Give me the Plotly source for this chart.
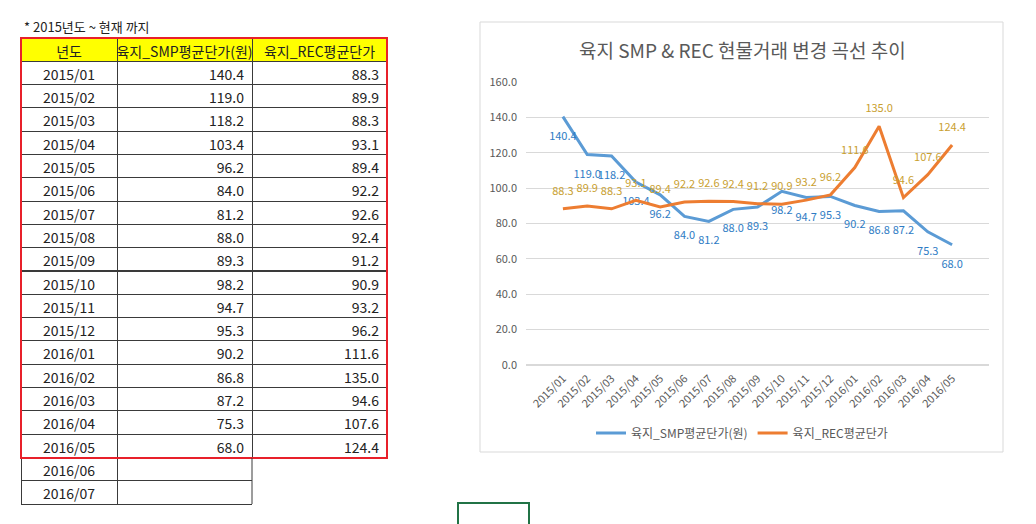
import plotly.graph_objects as go

W, H = 1036, 524
PAGE_OFFSET = 8  # browser body margin

months = ["2015/01", "2015/02", "2015/03", "2015/04", "2015/05", "2015/06",
          "2015/07", "2015/08", "2015/09", "2015/10", "2015/11", "2015/12",
          "2016/01", "2016/02", "2016/03", "2016/04", "2016/05"]
extra_months = ["2016/06", "2016/07"]
smp = [140.4, 119.0, 118.2, 103.4, 96.2, 84.0, 81.2, 88.0, 89.3,
       98.2, 94.7, 95.3, 90.2, 86.8, 87.2, 75.3, 68.0]
rec = [88.3, 89.9, 88.3, 93.1, 89.4, 92.2, 92.6, 92.4, 91.2,
       90.9, 93.2, 96.2, 111.6, 135.0, 94.6, 107.6, 124.4]
headers = ["년도", "육지_SMP평균단가(원)", "육지_REC평균단가"]

FONT = "Noto Sans CJK KR, Malgun Gothic, sans-serif"


def px_x(x):
    return (x - PAGE_OFFSET) / W


def px_y(y):
    return 1 - (y - PAGE_OFFSET) / H


fig = go.Figure()

# ---- spreadsheet table on the left ----
n_rows = len(months) + len(extra_months)
col_smp = [f"{v:.1f}" for v in smp] + [""] * len(extra_months)
col_rec = [f"{v:.1f}" for v in rec] + [""] * len(extra_months)
line_dark = "#3a3a3a"
fig.add_trace(go.Table(
    domain=dict(x=[px_x(21), px_x(387)], y=[px_y(520), px_y(38)]),
    columnwidth=[96, 135, 135],
    header=dict(
        values=headers,
        fill_color="#FFFF00",
        line=dict(color=line_dark, width=1),
        align="center",
        height=23.3,
        font=dict(family=FONT, size=14, color="#222222"),
    ),
    cells=dict(
        values=[months + extra_months, col_smp, col_rec],
        fill_color="white",
        line=dict(color=[[line_dark] * n_rows,
                         [line_dark] * n_rows,
                         [line_dark] * len(months) + ["white"] * len(extra_months)],
                  width=1),
        align=["center", "right", "right"],
        height=23.3,
        font=dict(family=FONT, size=14, color="#222222"),
    ),
))

# ---- line chart on the right ----
fig.add_trace(go.Scatter(
    x=months, y=smp, name="육지_SMP평균단가(원)",
    mode="lines+markers+text", line=dict(color="#5B9BD5", width=3),
    marker=dict(size=22, color="rgba(0,0,0,0)"),
    text=[f"{v:.1f}" for v in smp], textposition="bottom center",
    textfont=dict(family=FONT, size=11, color="#2E7BC4"),
    cliponaxis=False,
))
fig.add_trace(go.Scatter(
    x=months, y=rec, name="육지_REC평균단가",
    mode="lines+markers+text", line=dict(color="#ED7D31", width=3),
    marker=dict(size=16, color="rgba(0,0,0,0)"),
    text=[f"{v:.1f}" for v in rec], textposition="top center",
    textfont=dict(family=FONT, size=11, color="#C9A030"),
    cliponaxis=False,
))

fig.update_layout(
    width=W, height=H,
    margin=dict(l=0, r=0, t=0, b=0, autoexpand=False),
    paper_bgcolor="white", plot_bgcolor="white",
    font=dict(family=FONT, color="#595959"),
    xaxis=dict(
        domain=[px_x(526), px_x(989)],
        anchor="y",
        tickangle=-45,
        tickfont=dict(size=11, color="#595959"),
        ticklabelstandoff=4,
        showgrid=False, showline=False, ticks="",
    ),
    yaxis=dict(
        domain=[px_y(365), px_y(82)],
        anchor="x",
        range=[0, 160], dtick=20, tickformat=".1f",
        tickfont=dict(size=11, color="#595959"),
        ticklabelstandoff=8,
        gridcolor="#D9D9D9", zeroline=True, zerolinecolor="#D9D9D9",
        showline=False, ticks="",
    ),
    legend=dict(
        orientation="h", x=px_x(742), xanchor="center",
        y=px_y(433), yanchor="middle",
        font=dict(size=12, color="#595959"),
    ),
    annotations=[
        dict(text="* 2015년도 ~ 현재 까지", x=px_x(22), y=px_y(27),
             xref="paper", yref="paper", xanchor="left", yanchor="middle",
             showarrow=False, font=dict(family=FONT, size=13, color="#222222")),
        dict(text="육지 SMP & REC 현물거래 변경 곡선 추이", x=px_x(742), y=px_y(50),
             xref="paper", yref="paper", xanchor="center", yanchor="middle",
             showarrow=False, font=dict(family=FONT, size=19, color="#595959")),
    ],
    shapes=[
        # chart frame
        dict(type="rect", xref="paper", yref="paper",
             x0=px_x(480), x1=px_x(1003), y0=px_y(452), y1=px_y(22),
             line=dict(color="#D9D9D9", width=1)),
        # red outline around filled data
        dict(type="rect", xref="paper", yref="paper",
             x0=px_x(21), x1=px_x(387), y0=px_y(458), y1=px_y(38),
             line=dict(color="#E8202A", width=2)),
        # border between columns for empty rows
        dict(type="line", xref="paper", yref="paper",
             x0=px_x(252), x1=px_x(252), y0=px_y(504), y1=px_y(458),
             line=dict(color=line_dark, width=1)),
        # selected cell (green)
        dict(type="rect", xref="paper", yref="paper",
             x0=px_x(458), x1=px_x(529), y0=px_y(530), y1=px_y(503),
             line=dict(color="#217346", width=2)),
    ],
)

fig.write_html("out.html")
